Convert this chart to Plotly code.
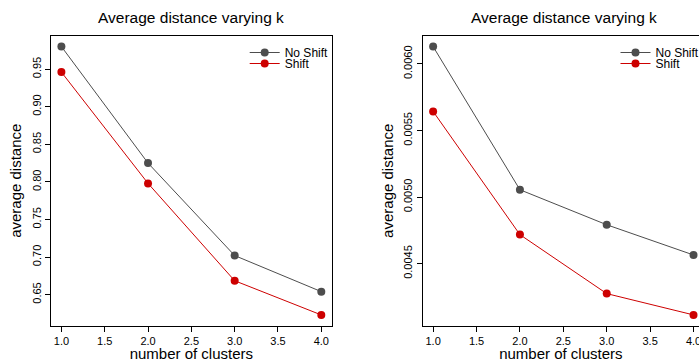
import plotly.graph_objects as go

# ---- data ----
clusters = [1, 2, 3, 4]
left_no_shift = [0.980, 0.825, 0.702, 0.654]
left_shift = [0.946, 0.798, 0.6685, 0.623]
right_no_shift = [0.00613, 0.005055, 0.004792, 0.004565]
right_shift = [0.005643, 0.004718, 0.004275, 0.004115]
series_names = ["No Shift", "Shift"]
title_text = "Average distance varying k"
x_title = "number of clusters"
y_title = "average distance"
x_ticks = [1.0, 1.5, 2.0, 2.5, 3.0, 3.5, 4.0]
left_y_ticks = [0.65, 0.70, 0.75, 0.80, 0.85, 0.90, 0.95]
right_y_ticks = [0.0045, 0.0050, 0.0055, 0.0060]

GRAY = "#4d4d4d"
RED = "#cd0000"
FONT = "Liberation Sans, Arial, Helvetica, sans-serif"
W, H = 699, 362

fig = go.Figure()

def add(xs, ys, color, name, xa, ya, legend):
    fig.add_trace(go.Scatter(
        x=xs, y=ys, mode="lines+markers", name=name,
        line=dict(color=color, width=1),
        marker=dict(color=color, size=8),
        xaxis=xa, yaxis=ya, legend=legend, showlegend=True,
    ))

add(clusters, left_no_shift, GRAY, series_names[0], "x", "y", "legend")
add(clusters, left_shift, RED, series_names[1], "x", "y", "legend2")
add(clusters, right_no_shift, GRAY, series_names[0], "x2", "y2", "legend3")
add(clusters, right_shift, RED, series_names[1], "x2", "y2", "legend4")

# plot areas in pixels
L1, R1 = 51.0, 331.7
L2, R2 = 422.7, 699.0
TOP, BOT = 35.8, 325.7

ydom = [1 - BOT / H, 1 - TOP / H]

axis_common = dict(
    showline=True, linecolor="black", linewidth=1,
    ticks="outside", ticklen=5, tickcolor="black", tickwidth=1,
    showgrid=False, zeroline=False, automargin=False,
    tickfont=dict(family=FONT, size=11, color="black"),
)

fig.update_layout(
    width=W, height=H,
    margin=dict(l=0, r=0, t=0, b=0, autoexpand=False),
    paper_bgcolor="white", plot_bgcolor="white",
    font=dict(family=FONT, color="black"),
    xaxis=dict(domain=[L1 / W, R1 / W], range=[0.88, 4.12], anchor="y",
               tickvals=x_ticks, tickformat=".1f", mirror=True,
               title=dict(text=x_title, font=dict(size=15), standoff=5),
               **axis_common),
    yaxis=dict(domain=ydom, range=[0.6087, 0.9943], anchor="x",
               tickvals=left_y_ticks, tickformat=".2f", tickangle=-90, mirror=True,
               title=dict(text=y_title, font=dict(size=15), standoff=5),
               **axis_common),
    xaxis2=dict(domain=[L2 / W, R2 / W], range=[0.88, 0.88 + (R2 - L2) / 86.8], anchor="y2",
                tickvals=x_ticks, tickformat=".1f", mirror=True, ticklabeloverflow="allow",
                title=dict(text=x_title, font=dict(size=15), standoff=5),
                **axis_common),
    yaxis2=dict(domain=ydom, range=[0.004034, 0.006211], anchor="x2",
                tickvals=right_y_ticks, tickformat=".4f", tickangle=-90, mirror=False,
                title=dict(text=y_title, font=dict(size=15), standoff=5),
                **axis_common),
    annotations=[
        dict(text=title_text, x=(L1 + R1) / 2 / W, y=1 - 18 / H, xref="paper", yref="paper",
             xanchor="center", yanchor="middle", showarrow=False,
             font=dict(family=FONT, size=15.5, color="black")),
        dict(text=title_text, x=(L2 + 704.6) / 2 / W, y=1 - 18 / H, xref="paper", yref="paper",
             xanchor="center", yanchor="middle", showarrow=False,
             font=dict(family=FONT, size=15.5, color="black")),
    ],
)

leg_common = dict(bgcolor="rgba(0,0,0,0)", borderwidth=0, xanchor="left", yanchor="middle",
                  font=dict(family=FONT, size=12, color="black"), itemclick=False)
fig.update_layout(
    legend=dict(x=244.7 / W, y=1 - 52.5 / H, **leg_common),
    legend2=dict(x=244.7 / W, y=1 - 63.5 / H, **leg_common),
    legend3=dict(x=615.5 / W, y=1 - 52.5 / H, **leg_common),
    legend4=dict(x=615.5 / W, y=1 - 63.5 / H, **leg_common),
)

fig.write_html("out.html")
